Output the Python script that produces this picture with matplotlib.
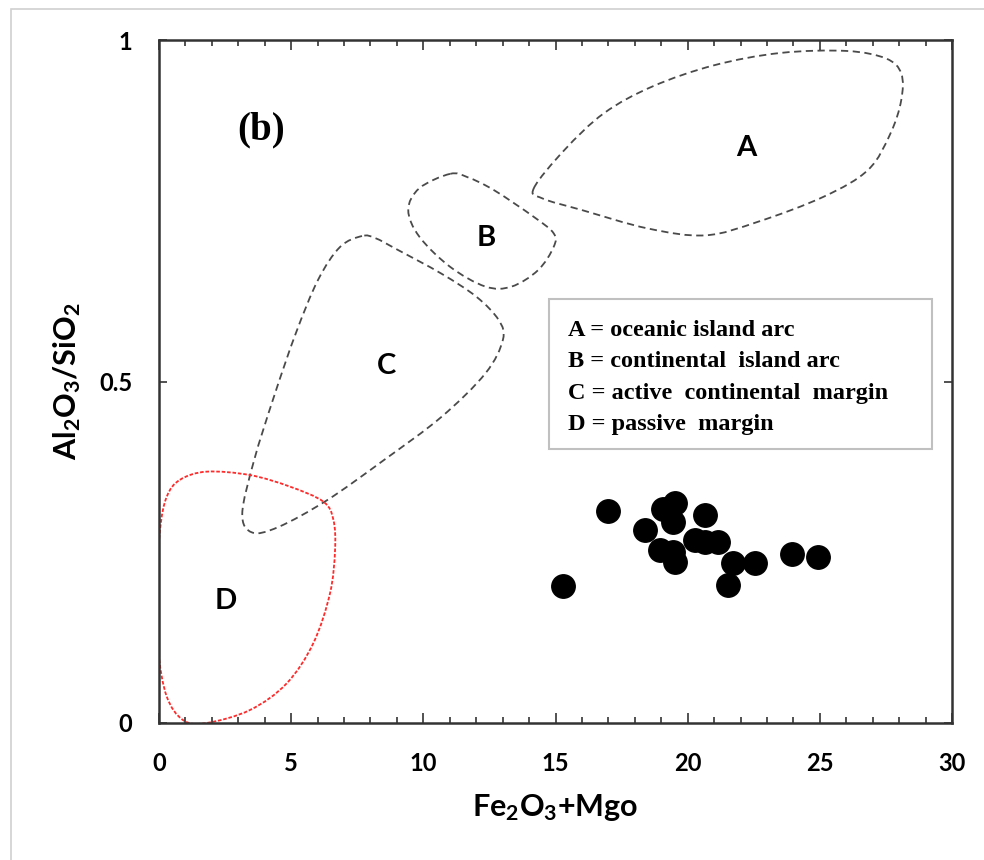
import numpy as np
import matplotlib
matplotlib.use('Agg')
import matplotlib.pyplot as plt
from matplotlib.path import Path
from matplotlib.patches import PathPatch, Rectangle
from matplotlib.ticker import MultipleLocator

plt.rcParams['font.family'] = ['Lato', 'DejaVu Sans']
plt.rcParams['mathtext.fontset'] = 'custom'
plt.rcParams['mathtext.rm'] = 'Lato:bold'
plt.rcParams['mathtext.it'] = 'Lato:bold'
plt.rcParams['mathtext.bf'] = 'Lato:bold'
plt.rcParams['mathtext.default'] = 'rm'

# samples (Fe2O3+MgO, Al2O3/SiO2)
fe_mg = [17.0, 15.3, 19.52, 19.08, 19.46, 20.66, 18.39, 18.96, 19.52,
         19.46, 20.28, 20.66, 21.16, 21.73, 22.55, 21.54, 23.94, 24.94]
al_si = [0.311, 0.200, 0.322, 0.314, 0.295, 0.305, 0.283, 0.253, 0.236,
         0.251, 0.268, 0.265, 0.265, 0.234, 0.234, 0.202, 0.247, 0.243]

# field outlines
A_x = [14.18, 15.34, 16.84, 18.67, 21.0, 23.5, 26.0, 27.5, 28.08, 28.08,
       27.67, 26.83, 25.17, 22.67, 20.67, 18.5, 16.0, 14.51]
A_y = [0.783, 0.839, 0.893, 0.932, 0.963, 0.981, 0.984, 0.973, 0.951, 0.912,
       0.863, 0.810, 0.771, 0.734, 0.714, 0.724, 0.751, 0.768]
B_x = [11.01, 9.85, 9.43, 9.85, 11.01, 12.35, 13.34, 14.34, 14.93, 14.93,
       14.18, 12.68, 11.68]
B_y = [0.804, 0.783, 0.751, 0.712, 0.668, 0.639, 0.639, 0.663, 0.697, 0.717,
       0.741, 0.780, 0.799]
C_x = [7.68, 6.85, 6.02, 5.18, 4.35, 3.60, 3.15, 3.52, 4.52, 6.35, 8.51,
       10.68, 12.35, 13.01, 12.85, 12.01, 10.68, 9.02, 8.18]
C_y = [0.713, 0.697, 0.649, 0.571, 0.478, 0.385, 0.307, 0.279, 0.287, 0.326,
       0.385, 0.448, 0.512, 0.561, 0.590, 0.624, 0.658, 0.693, 0.710]
D_x = [0.79, 1.80, 3.44, 4.96, 6.22, 6.60, 6.66, 6.47, 5.84, 4.83, 3.44,
       1.80, 0.92, 0.29, -0.03, -0.09, 0.04, 0.29]
D_y = [0.356, 0.368, 0.363, 0.346, 0.324, 0.297, 0.253, 0.190, 0.117, 0.058,
       0.019, 0.0, 0.004, 0.039, 0.107, 0.195, 0.283, 0.331]

field_names = ['A', 'B', 'C', 'D']
field_label_x = [22.2, 12.37, 8.59, 2.53]
field_label_y = [0.842, 0.710, 0.523, 0.179]

legend_lines = ['A = oceanic island arc',
                'B = continental  island arc',
                'C = active  continental  margin',
                'D = passive  margin']


def closed_curve(xs, ys):
    # closed smooth outline (catmull-rom -> cubic bezier)
    pts = np.column_stack([xs, ys])
    n = len(pts)
    verts = [pts[0]]
    codes = [Path.MOVETO]
    for i in range(n):
        p0 = pts[i - 1]
        p1 = pts[i]
        p2 = pts[(i + 1) % n]
        p3 = pts[(i + 2) % n]
        verts += [p1 + (p2 - p0) / 6, p2 - (p3 - p1) / 6, p2]
        codes += [Path.CURVE4] * 3
    return Path(verts, codes)


fig = plt.figure(figsize=(9.84, 8.6), dpi=100)
fig.patches.append(Rectangle((11 / 984, -0.1), 2, 1.1 - 9 / 860, transform=fig.transFigure,
                             fill=False, ec='#d0d0d0', lw=1.2))
ax = fig.add_axes([159 / 984, 1 - 723 / 860, 793 / 984, 683 / 860])

for xs, ys in [(A_x, A_y), (B_x, B_y), (C_x, C_y)]:
    ax.add_patch(PathPatch(closed_curve(xs, ys), fill=False, ec='#4a4a4a',
                           lw=1.3, ls=(0, (4, 2.5))))
ax.add_patch(PathPatch(closed_curve(D_x, D_y), fill=False, ec='#ff2a2a',
                       lw=1.3, ls=(0, (2, 1))))

ax.scatter(fe_mg, al_si, s=285, c='black', zorder=5)

for name, lx, ly in zip(field_names, field_label_x, field_label_y):
    ax.text(lx, ly, name, fontsize=21, fontweight='bold', ha='center', va='center')

ax.text(3.85, 0.869, '(b)', family='Liberation Serif', fontsize=28, fontweight='bold',
        ha='center', va='center')

for i, line in enumerate(legend_lines):
    ax.text(15.47, 0.575 - i * 0.046, line, family='Liberation Serif', fontsize=17.5,
            fontweight='bold', ha='left', va='center')
ax.add_patch(Rectangle((14.75, 0.401), 14.5, 0.621 - 0.401, fill=False,
                       ec='#c0c0c0', lw=1.5))

ax.set_xlim(0, 30)
ax.set_ylim(0, 1)
ax.xaxis.set_major_locator(MultipleLocator(5))
ax.xaxis.set_minor_locator(MultipleLocator(1))
ax.set_yticks([0, 0.5, 1])
ax.set_yticklabels(['0', '0.5', '1'])
ax.tick_params(axis='both', which='both', direction='in', top=True, right=True,
               color='#333333', width=1.2)
ax.tick_params(axis='x', which='major', length=7, pad=21, labelsize=17)
ax.tick_params(axis='x', which='minor', length=4.5)
ax.tick_params(axis='y', which='major', length=6, pad=19, labelsize=17)
for lab in ax.get_xticklabels() + ax.get_yticklabels():
    lab.set_fontweight('bold')
for sp in ax.spines.values():
    sp.set_linewidth(1.8)
    sp.set_color('#333333')

ax.set_xlabel(r'Fe$_2$O$_3$+Mgo', fontsize=22, fontweight='bold', labelpad=12)
ax.set_ylabel(r'Al$_2$O$_3$/SiO$_2$', fontsize=22, fontweight='bold', labelpad=12)

plt.savefig('out.png', dpi=100)
